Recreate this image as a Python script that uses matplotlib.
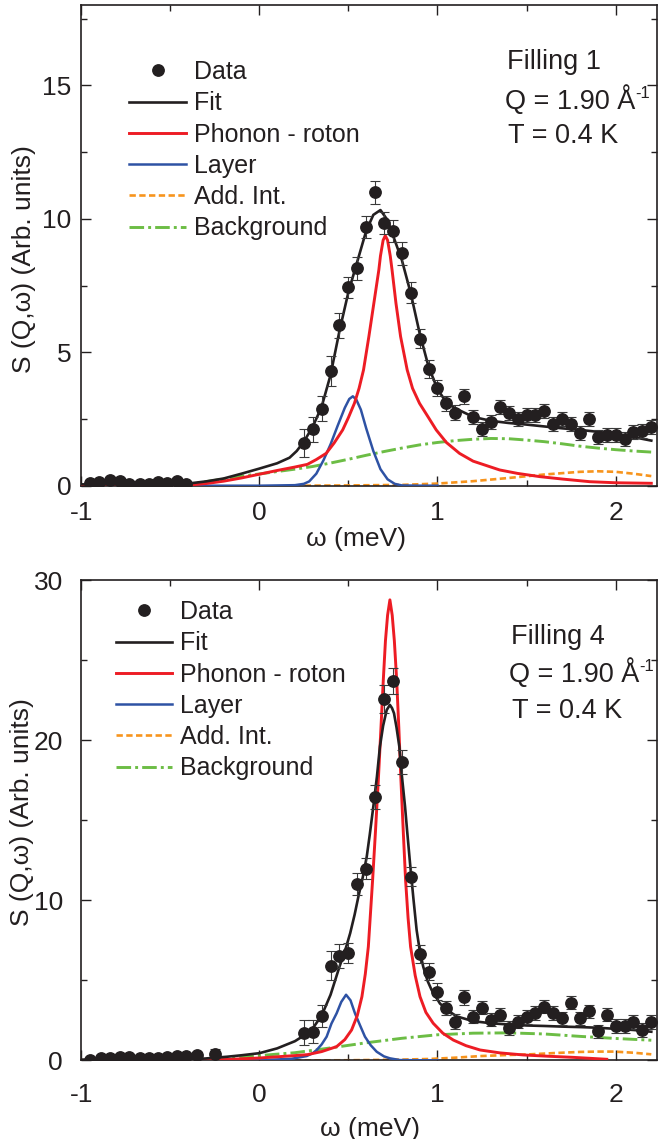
import matplotlib
matplotlib.use("Agg")
import matplotlib.pyplot as plt
from matplotlib.lines import Line2D
from matplotlib.ticker import MultipleLocator

plt.rcParams['font.family'] = ['Liberation Sans', 'DejaVu Sans']
plt.rcParams['axes.unicode_minus'] = False

# ---------------- data: top panel (Filling 1) ----------------
top_low_x = [-0.95, -0.90, -0.84, -0.78, -0.73, -0.67, -0.62, -0.57, -0.52, -0.46, -0.41]
top_low_y = [0.09, 0.15, 0.22, 0.16, 0.08, 0.05, 0.05, 0.12, 0.09, 0.19, 0.08]
top_low_err = [0.08, 0.08, 0.08, 0.08, 0.08, 0.08, 0.08, 0.08, 0.08, 0.08, 0.08]

main_x = [0.25, 0.30, 0.35, 0.40, 0.45, 0.50, 0.55, 0.60, 0.65, 0.70,
          0.75, 0.80, 0.85, 0.90, 0.95, 1.00, 1.05, 1.10, 1.15, 1.20,
          1.25, 1.30, 1.35, 1.40, 1.45, 1.50, 1.55, 1.60, 1.65, 1.70,
          1.75, 1.80, 1.85, 1.90, 1.95, 2.00, 2.05, 2.10, 2.15, 2.20]
top_y = [1.60, 2.11, 2.89, 4.29, 6.01, 7.44, 8.14, 9.69, 10.99, 9.84,
         9.56, 8.71, 7.24, 5.51, 4.36, 3.66, 3.09, 2.74, 3.36, 2.56,
         2.14, 2.39, 2.96, 2.71, 2.49, 2.66, 2.64, 2.81, 2.31, 2.51,
         2.31, 1.96, 2.51, 1.84, 1.89, 1.89, 1.74, 2.01, 2.06, 2.19]
top_err = [0.54, 0.47, 0.47, 0.56, 0.48, 0.39, 0.42, 0.42, 0.44, 0.41,
           0.41, 0.44, 0.39, 0.36, 0.34, 0.31, 0.28, 0.28, 0.28, 0.26,
           0.26, 0.26, 0.26, 0.26, 0.26, 0.26, 0.26, 0.26, 0.26, 0.26,
           0.26, 0.26, 0.26, 0.26, 0.26, 0.26, 0.26, 0.26, 0.26, 0.26]

top_fit_x = [-1.0, -0.5, -0.4, -0.3, -0.2, -0.1, 0.0, 0.1, 0.17, 0.21, 0.25, 0.30, 0.35, 0.40,
             0.45, 0.50, 0.55, 0.60, 0.64, 0.68, 0.72, 0.76, 0.80, 0.85, 0.90, 0.95, 1.00,
             1.05, 1.10, 1.20, 1.30, 1.40, 1.50, 1.60, 1.70, 1.80, 1.90, 2.00, 2.10, 2.20]
top_fit_y = [0.05, 0.05, 0.08, 0.16, 0.27, 0.45, 0.64, 0.84, 1.05, 1.30, 1.65, 2.21, 2.96, 4.15,
             5.80, 7.25, 8.40, 9.55, 10.15, 10.33, 9.95, 9.20, 8.46, 7.21, 5.71, 4.46, 3.62,
             3.12, 2.90, 2.58, 2.43, 2.35, 2.29, 2.22, 2.15, 2.09, 2.02, 1.93, 1.82, 1.69]

top_pr_x = [-1.0, -0.4, -0.3, -0.2, -0.1, 0.0, 0.1, 0.2, 0.27, 0.32, 0.375, 0.42, 0.468, 0.50,
            0.534, 0.56, 0.585, 0.615, 0.643, 0.671, 0.68, 0.695, 0.707, 0.72, 0.735, 0.745,
            0.767, 0.793, 0.83, 0.86, 0.899, 0.95, 0.993, 1.05, 1.124, 1.2, 1.349, 1.45,
            1.574, 1.7, 1.855, 2.0, 2.2]
top_pr_y = [0.0, 0.02, 0.08, 0.17, 0.29, 0.43, 0.57, 0.70, 0.80, 0.98, 1.21, 1.60, 2.09, 2.55,
            3.09, 3.65, 4.34, 5.59, 6.84, 8.09, 8.61, 9.20, 9.37, 9.20, 8.61, 8.09,
            6.84, 5.59, 4.34, 3.65, 3.09, 2.55, 2.09, 1.62, 1.21, 0.92, 0.59, 0.46,
            0.34, 0.25, 0.15, 0.11, 0.09]

top_layer_x = [-0.4, 0.0, 0.2, 0.25, 0.28, 0.32, 0.36, 0.40, 0.44, 0.48, 0.505, 0.525, 0.545,
               0.57, 0.60, 0.64, 0.68, 0.72, 0.76, 0.80, 0.9, 1.0]
top_layer_y = [0.0, 0.0, 0.02, 0.07, 0.16, 0.45, 0.95, 1.55, 2.25, 2.92, 3.25, 3.35, 3.22,
               2.85, 2.15, 1.30, 0.62, 0.24, 0.07, 0.01, 0.0, 0.0]

top_add_x = [0.2, 0.5, 0.8, 1.0, 1.2, 1.4, 1.6, 1.8, 1.9, 2.0, 2.1, 2.2]
top_add_y = [0.0, 0.01, 0.03, 0.08, 0.17, 0.29, 0.42, 0.52, 0.54, 0.52, 0.45, 0.36]

top_bg_x = [-0.45, -0.3, -0.2, -0.1, 0.0, 0.1, 0.2, 0.3, 0.4, 0.5, 0.6, 0.7, 0.8, 0.9, 1.0,
            1.1, 1.2, 1.3, 1.4, 1.5, 1.6, 1.7, 1.8, 1.9, 2.0, 2.1, 2.2]
top_bg_y = [0.0, 0.15, 0.25, 0.36, 0.44, 0.53, 0.62, 0.72, 0.85, 0.99, 1.14, 1.28, 1.41, 1.53,
            1.62, 1.69, 1.74, 1.77, 1.76, 1.71, 1.65, 1.57, 1.48, 1.41, 1.35, 1.30, 1.26]

# ---------------- data: bottom panel (Filling 4) ----------------
bot_low_x = [-0.95, -0.89, -0.84, -0.78, -0.73, -0.67, -0.62, -0.57, -0.52, -0.46, -0.41, -0.35, -0.25]
bot_low_y = [0.05, 0.12, 0.15, 0.20, 0.22, 0.18, 0.12, 0.15, 0.20, 0.26, 0.30, 0.35, 0.42]
bot_low_err = [0.1, 0.1, 0.1, 0.1, 0.1, 0.1, 0.1, 0.1, 0.1, 0.1, 0.1, 0.15, 0.3]

bot_y = [1.73, 1.79, 2.77, 5.92, 6.52, 6.73, 11.02, 11.98, 16.45, 22.57,
         23.70, 18.66, 11.48, 6.65, 5.54, 4.29, 3.29, 2.42, 3.94, 2.73,
         3.29, 2.55, 2.86, 2.02, 2.42, 2.71, 2.96, 3.35, 2.96, 2.63,
         3.61, 2.63, 3.06, 1.81, 2.86, 2.16, 2.16, 2.39, 1.90, 2.39]
bot_err = [0.78, 0.73, 0.68, 0.89, 0.73, 0.62, 0.68, 0.65, 0.76, 0.85,
           0.80, 0.75, 0.60, 0.54, 0.52, 0.52, 0.45, 0.45, 0.45, 0.42,
           0.42, 0.42, 0.42, 0.42, 0.42, 0.42, 0.42, 0.42, 0.42, 0.42,
           0.42, 0.42, 0.42, 0.42, 0.42, 0.42, 0.42, 0.42, 0.42, 0.42]

bot_fit_x = [-1.0, -0.4, -0.3, -0.18, -0.1, 0.0, 0.1, 0.2, 0.25, 0.30, 0.35, 0.40, 0.45,
             0.48, 0.51, 0.535, 0.556, 0.58, 0.603, 0.62, 0.64, 0.66, 0.677, 0.695, 0.715,
             0.733, 0.745, 0.756, 0.77, 0.786, 0.80, 0.818, 0.83, 0.846, 0.865, 0.883, 0.90,
             0.92, 0.945, 0.967, 1.014, 1.06, 1.108, 1.2, 1.3, 1.4, 1.5, 1.6, 1.7, 1.8, 1.9,
             2.0, 2.1, 2.2]
bot_fit_y = [0.05, 0.07, 0.12, 0.23, 0.32, 0.45, 0.75, 1.20, 1.55, 2.00, 2.80, 4.10, 5.85,
             6.80, 7.94, 9.10, 10.22, 11.40, 12.72, 14.10, 15.85, 17.70, 19.59, 20.90, 21.88,
             22.20, 22.00, 21.68, 20.80, 19.59, 17.80, 15.85, 14.30, 12.31, 10.10, 8.14, 6.90,
             5.85, 4.95, 4.40, 3.55, 3.10, 2.75, 2.45, 2.32, 2.24, 2.18, 2.15, 2.11, 2.08, 2.04,
             1.97, 1.90, 1.79]

bot_pr_x = [-1.0, -0.5, -0.2, 0.0, 0.2, 0.27, 0.35, 0.434, 0.48, 0.518, 0.55, 0.576, 0.595,
            0.612, 0.636, 0.652, 0.668, 0.683, 0.696, 0.708, 0.72, 0.733, 0.746, 0.758, 0.771,
            0.783, 0.795, 0.808, 0.821, 0.835, 0.849, 0.875, 0.902, 0.935, 0.976, 1.03, 1.089,
            1.16, 1.239, 1.35, 1.482, 1.62, 1.762, 1.95]
bot_pr_y = [0.0, 0.0, 0.05, 0.15, 0.30, 0.36, 0.55, 0.86, 1.30, 1.90, 2.80, 3.98, 5.40,
            7.10, 11.27, 14.30, 17.50, 20.80, 23.76, 26.20, 27.80, 28.76, 27.80, 26.20, 23.76,
            20.80, 17.50, 14.30, 11.27, 8.90, 7.10, 5.30, 3.98, 3.00, 2.32, 1.70, 1.27,
            0.92, 0.65, 0.47, 0.34, 0.26, 0.19, 0.07]

bot_layer_x = [-0.5, 0.0, 0.18, 0.266, 0.30, 0.322, 0.35, 0.378, 0.405, 0.434, 0.46, 0.487,
               0.512, 0.537, 0.565, 0.593, 0.625, 0.659, 0.70, 0.733, 0.79, 1.0]
bot_layer_y = [0.0, 0.01, 0.10, 0.27, 0.45, 0.65, 1.00, 1.48, 2.30, 2.94, 3.65, 4.10,
               3.75, 2.94, 2.20, 1.48, 0.95, 0.54, 0.25, 0.13, 0.02, 0.0]

bot_add_x = [0.2, 0.5, 0.8, 0.958, 1.1, 1.24, 1.38, 1.52, 1.66, 1.80, 1.9, 1.99, 2.1, 2.2]
bot_add_y = [0.0, 0.01, 0.05, 0.09, 0.17, 0.27, 0.33, 0.38, 0.46, 0.53, 0.55, 0.55, 0.48, 0.38]

bot_bg_x = [-0.4, -0.2, 0.0, 0.2, 0.4, 0.6, 0.8, 1.0, 1.2, 1.4, 1.6, 1.8, 2.0, 2.2]
bot_bg_y = [0.02, 0.15, 0.30, 0.48, 0.78, 1.10, 1.38, 1.60, 1.70, 1.72, 1.65, 1.50, 1.37, 1.26]

xticks = [-1, 0, 1, 2]
labels = ["Data", "Fit", "Phonon - roton", "Layer", "Add. Int.", "Background"]

# ---------------- styles ----------------
C_DATA = '#231f20'
C_FIT = '#231f20'
C_RED = '#ed1c24'
C_BLUE = '#2e52a4'
C_ORANGE = '#f7941d'
C_GREEN = '#6cbd45'
BG_DASH = (5.0, 1.4, 1.0, 1.4)
ADD_DASH = (2.4, 1.3)
LW_FIT, LW_RED, LW_BLUE, LW_ADD, LW_BG = 1.9, 2.1, 1.8, 1.9, 2.1
FS_TICK, FS_LABEL, FS_LEG, FS_ANN, FS_SUP = 19, 19, 18, 19.5, 12

W, H = 658, 1139
fig = plt.figure(figsize=(W / 100, H / 100), dpi=100)

ax_l = 81.1 / W
ax_w = (657 - 81.1) / W
ax1 = fig.add_axes([ax_l, (H - 485.7) / H, ax_w, 480.3 / H])
ax2 = fig.add_axes([ax_l, (H - 1060.4) / H, ax_w, 480.4 / H])


def draw(ax, lx, ly, lerr, my, merr, fx, fy, px, py, lax, lay, adx, ady, bgx, bgy):
    ax.plot(bgx, bgy, color=C_GREEN, lw=LW_BG, dashes=BG_DASH, zorder=2)
    ax.plot(adx, ady, color=C_ORANGE, lw=LW_ADD, dashes=ADD_DASH, zorder=2)
    ax.plot(lax, lay, color=C_BLUE, lw=LW_BLUE, zorder=3)
    ax.plot(px, py, color=C_RED, lw=LW_RED, zorder=4)
    ax.plot(fx, fy, color=C_FIT, lw=LW_FIT, zorder=5)
    for xs, ys, es in ((lx, ly, lerr), (main_x, my, merr)):
        ax.errorbar(xs, ys, yerr=es, fmt='o', color=C_DATA, ms=8.2, mec=C_DATA,
                    ecolor='#3a3a3a', elinewidth=0.8, capsize=3.3, capthick=0.8, zorder=6)


draw(ax1, top_low_x, top_low_y, top_low_err, top_y, top_err, top_fit_x, top_fit_y,
     top_pr_x, top_pr_y, top_layer_x, top_layer_y, top_add_x, top_add_y, top_bg_x, top_bg_y)
draw(ax2, bot_low_x, bot_low_y, bot_low_err, bot_y, bot_err, bot_fit_x, bot_fit_y,
     bot_pr_x, bot_pr_y, bot_layer_x, bot_layer_y, bot_add_x, bot_add_y, bot_bg_x, bot_bg_y)

handles = [
    Line2D([], [], ls='none', marker='o', ms=8.2, color=C_DATA),
    Line2D([], [], color=C_FIT, lw=LW_FIT),
    Line2D([], [], color=C_RED, lw=LW_RED),
    Line2D([], [], color=C_BLUE, lw=LW_BLUE),
    Line2D([], [], color=C_ORANGE, lw=LW_ADD, dashes=ADD_DASH),
    Line2D([], [], color=C_GREEN, lw=LW_BG, dashes=BG_DASH),
]

settings = [
    (ax1, 18, 5, 2.5, 7.0, 11.0, (0.0837, 0.886),
     (-0.078, 0.472), (0.477, -0.0854), "Filling 1", (0.739, 0.736, 0.742)),
    (ax2, 30, 10, 5, 13.2, 16.3, (0.060, 0.958),
     (-0.082, 0.517), (0.502, -0.117), "Filling 4", (0.746, 0.743, 0.748)),
]

q_texts = []
for ax, ymax, ymaj, ymin, ypad, xpad, leg_anchor, ylab, xlab, fill, txs in settings:
    ax.set_xlim(-1.0, 2.232)
    ax.set_ylim(0, ymax)
    ax.set_xticks(xticks)
    ax.xaxis.set_minor_locator(MultipleLocator(0.5))
    ax.yaxis.set_major_locator(MultipleLocator(ymaj))
    ax.yaxis.set_minor_locator(MultipleLocator(ymin))
    ax.tick_params(which='both', direction='in', top=True, right=True, width=1.0,
                   labelsize=FS_TICK, colors='#231f20')
    ax.tick_params(which='major', length=7.0)
    ax.tick_params(which='minor', length=4.3)
    ax.tick_params(axis='y', which='major', pad=ypad)
    ax.tick_params(axis='x', which='major', pad=xpad)
    for sp in ax.spines.values():
        sp.set_linewidth(1.2)
        sp.set_color('#231f20')
    ax.set_ylabel("S (Q,ω) (Arb. units)", fontsize=FS_LABEL, color='#231f20')
    ax.yaxis.set_label_coords(*ylab)
    ax.set_xlabel("ω (meV)", fontsize=FS_LABEL, color='#231f20')
    ax.xaxis.set_label_coords(*xlab)
    leg = ax.legend(handles, labels, loc='upper left', bbox_to_anchor=leg_anchor,
                    frameon=False, fontsize=FS_LEG, borderpad=0, borderaxespad=0,
                    handlelength=2.27, handletextpad=0.32, labelspacing=0.29)
    for t in leg.get_texts():
        t.set_color('#231f20')
    ys = (0.867, 0.784, 0.713) if ax is ax1 else (0.866, 0.788, 0.712)
    for i, (txt, tx, ty) in enumerate(zip([fill, "Q = 1.90 Å", "T = 0.4 K"], txs, ys)):
        t = ax.text(tx, ty, txt, transform=ax.transAxes, fontsize=FS_ANN, va='baseline',
                    ha='left', color='#231f20')
        if i == 1:
            q_texts.append((ax, t, ty))

# superscript "-1" after the Å, placed from the rendered extent of the text
renderer = fig.canvas.get_renderer()
for ax, t, ty in q_texts:
    bb = t.get_window_extent(renderer=renderer)
    base_px = ax.transAxes.transform((0, ty))[1]
    sx, sy = ax.transAxes.inverted().transform((bb.x1 + 0.5, base_px + 11))
    ax.text(sx, sy, "-1", transform=ax.transAxes, fontsize=FS_SUP, va='baseline',
            ha='left', color='#231f20')

fig.savefig("out.png", dpi=100)
